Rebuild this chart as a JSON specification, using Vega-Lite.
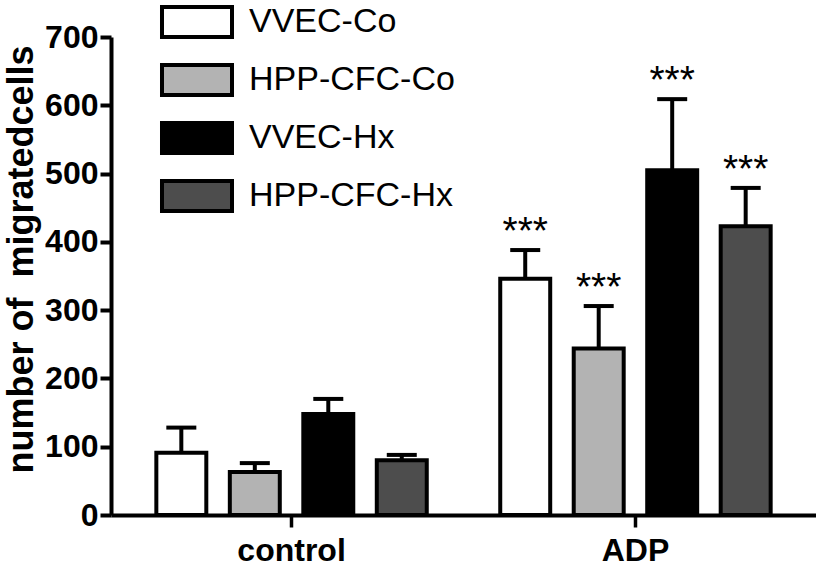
{
  "$schema": "https://vega.github.io/schema/vega-lite/v6.json",
  "width": 705,
  "height": 478,
  "autosize": "none",
  "padding": {"left": 111, "top": 37, "right": 0, "bottom": 61},
  "background": "white",
  "config": {
    "view": {"stroke": null},
    "font": "Liberation Sans"
  },
  "data": {
    "values": [
      {"group": "control", "cond": "VVEC-Co", "value": 91, "upper": 128, "stars": ""},
      {"group": "control", "cond": "HPP-CFC-Co", "value": 63, "upper": 76, "stars": ""},
      {"group": "control", "cond": "VVEC-Hx", "value": 148, "upper": 170, "stars": ""},
      {"group": "control", "cond": "HPP-CFC-Hx", "value": 80, "upper": 88, "stars": ""},
      {"group": "ADP", "cond": "VVEC-Co", "value": 346, "upper": 388, "stars": "***"},
      {"group": "ADP", "cond": "HPP-CFC-Co", "value": 244, "upper": 306, "stars": "***"},
      {"group": "ADP", "cond": "VVEC-Hx", "value": 505, "upper": 609, "stars": "***"},
      {"group": "ADP", "cond": "HPP-CFC-Hx", "value": 423, "upper": 479, "stars": "***"}
    ]
  },
  "encoding": {
    "x": {
      "field": "group", "type": "nominal", "sort": ["control", "ADP"],
      "scale": {"paddingInner": 0, "paddingOuter": 0.025},
      "axis": {
        "title": null, "labelAngle": 0, "labelFont": "Liberation Sans", "labelFontWeight": "bold",
        "labelFontSize": 32, "labelColor": "black", "labelPadding": 8,
        "tickSize": 12, "tickWidth": 3.5, "tickColor": "black",
        "domainWidth": 4, "domainColor": "black"
      }
    },
    "xOffset": {
      "field": "cond", "type": "nominal",
      "sort": ["VVEC-Co", "HPP-CFC-Co", "VVEC-Hx", "HPP-CFC-Hx"],
      "scale": {"paddingInner": 0.32, "paddingOuter": 0.5}
    }
  },
  "layer": [
    {
      "mark": {"type": "rule", "strokeWidth": 4, "color": "black"},
      "encoding": {
        "y": {"field": "value", "type": "quantitative"},
        "y2": {"field": "upper"}
      }
    },
    {
      "mark": {"type": "tick", "orient": "horizontal", "size": 30, "thickness": 4, "color": "black", "opacity": 1},
      "encoding": {
        "y": {"field": "upper", "type": "quantitative"}
      }
    },
    {
      "mark": {"type": "bar", "stroke": "black", "strokeWidth": 4, "opacity": 1},
      "encoding": {
        "y": {
          "field": "value", "type": "quantitative",
          "scale": {"domain": [0, 700], "nice": false},
          "axis": {
            "values": [0, 100, 200, 300, 400, 500, 600, 700],
            "grid": false,
            "title": "number of \u00a0migratedcells",
            "titleFont": "Liberation Sans", "titleFontWeight": "bold", "titleFontSize": 36,
            "titleColor": "black", "titlePadding": 4, "titleY": 222,
            "labelFont": "Liberation Sans", "labelFontWeight": "bold", "labelFontSize": 32,
            "labelColor": "black", "labelPadding": 2,
            "tickSize": 11, "tickWidth": 4, "tickColor": "black",
            "domainWidth": 4, "domainColor": "black"
          }
        },
        "fill": {
          "field": "cond", "type": "nominal",
          "scale": {
            "domain": ["VVEC-Co", "HPP-CFC-Co", "VVEC-Hx", "HPP-CFC-Hx"],
            "range": ["#ffffff", "#b3b3b3", "#000000", "#4d4d4d"]
          },
          "legend": {
            "title": null,
            "orient": "none",
            "legendX": 54,
            "legendY": -47,
            "padding": 0,
            "symbolType": "M-1.1667,-0.5H1.1667V0.5H-1.1667Z",
            "symbolSize": 3600,
            "symbolStrokeColor": "black",
            "symbolStrokeWidth": 4,
            "symbolOpacity": 1,
            "labelFont": "Liberation Sans",
            "labelFontSize": 34,
            "labelColor": "black",
            "labelOffset": 20,
            "rowPadding": 3,
            "labelLimit": 400
          }
        }
      }
    },
    {
      "mark": {"type": "text", "font": "Liberation Sans", "fontSize": 39, "baseline": "alphabetic", "dy": -6, "color": "black"},
      "encoding": {
        "y": {"field": "upper", "type": "quantitative"},
        "text": {"field": "stars"}
      }
    }
  ]
}
